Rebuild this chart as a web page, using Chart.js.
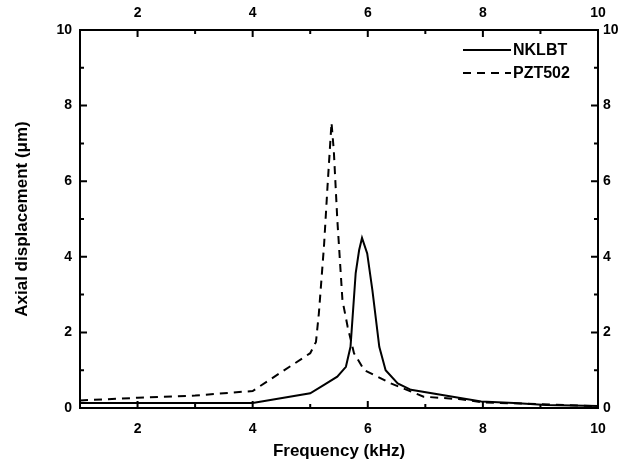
<!DOCTYPE html>
<html>
<head>
<meta charset="utf-8">
<script src="https://cdn.jsdelivr.net/npm/chart.js@4.4.0/dist/chart.umd.min.js"></script>
<style>
  html, body { margin: 0; padding: 0; background: #fff; }
  #wrap { width: 624px; height: 462px; }
</style>
</head>
<body>
<div id="wrap"><canvas id="chart" width="624" height="462"></canvas></div>
<script>
// data
const freqNKLBT = [1, 4, 5, 5.24, 5.47, 5.62, 5.7, 5.79, 5.85, 5.9, 5.99, 6.08, 6.2, 6.31, 6.52, 6.75, 7.97, 8.54, 9.1, 10];
const dispNKLBT = [0.13, 0.13, 0.39, 0.61, 0.83, 1.09, 1.62, 3.57, 4.18, 4.5, 4.09, 3.12, 1.62, 1.0, 0.65, 0.48, 0.17, 0.13, 0.08, 0.05];

const freqPZT = [1, 2, 3, 4, 4.5, 5, 5.1, 5.15, 5.24, 5.3, 5.37, 5.41, 5.47, 5.56, 5.65, 5.76, 5.94, 6.17, 6.4, 6.97, 7.62, 8, 9, 10];
const dispPZT = [0.2, 0.27, 0.33, 0.45, 0.95, 1.45, 1.75, 2.5, 4.3, 5.85, 7.55, 6.8, 5.0, 2.85, 2.15, 1.45, 1.0, 0.83, 0.65, 0.3, 0.23, 0.15, 0.1, 0.05];

const xTicks = [2, 4, 6, 8, 10];
const yTicks = [0, 2, 4, 6, 8, 10];
const seriesNames = ['NKLBT', 'PZT502'];

const toPoints = (xs, ys) => xs.map((x, i) => ({ x: x, y: ys[i] }));

const FONT = 'Liberation Sans, Arial, sans-serif';
const tickFont = { family: FONT, size: 14, weight: 'bold' };
const titleFont = { family: FONT, size: 17, weight: 'bold' };

// inward tick marks on all four sides
const innerTicks = {
  id: 'innerTicks',
  afterDraw(chart) {
    const ctx = chart.ctx;
    const a = chart.chartArea;
    const sx = chart.scales.x, sy = chart.scales.y;
    ctx.save();
    ctx.strokeStyle = '#000';
    ctx.lineWidth = 2;
    for (let v = 2; v <= 9; v++) {
      const len = v % 2 === 0 ? 7 : 4;
      const px = sx.getPixelForValue(v);
      ctx.beginPath();
      ctx.moveTo(px, a.bottom); ctx.lineTo(px, a.bottom - len);
      ctx.moveTo(px, a.top); ctx.lineTo(px, a.top + len);
      ctx.stroke();
    }
    for (let v = 1; v <= 9; v++) {
      const len = v % 2 === 0 ? 7 : 4;
      const py = sy.getPixelForValue(v);
      ctx.beginPath();
      ctx.moveTo(a.left, py); ctx.lineTo(a.left + len, py);
      ctx.moveTo(a.right, py); ctx.lineTo(a.right - len, py);
      ctx.stroke();
    }
    ctx.restore();
  }
};

// legend in the upper right corner
const cornerLegend = {
  id: 'cornerLegend',
  afterDraw(chart) {
    const ctx = chart.ctx;
    const a = chart.chartArea;
    ctx.save();
    ctx.font = 'bold 16px ' + FONT;
    ctx.textBaseline = 'middle';
    ctx.fillStyle = '#000';
    chart.data.datasets.forEach((ds, i) => {
      const y = a.top + 20 + i * 23;
      const x0 = a.right - 135, x1 = a.right - 87;
      ctx.strokeStyle = '#000';
      ctx.lineWidth = 2;
      ctx.setLineDash(ds.borderDash || []);
      ctx.beginPath();
      ctx.moveTo(x0, y); ctx.lineTo(x1, y);
      ctx.stroke();
      ctx.setLineDash([]);
      ctx.fillText(ds.label, x1 + 2, y + 1);
    });
    ctx.restore();
  }
};

const ctx = document.getElementById('chart').getContext('2d');
const chart = new Chart(ctx, {
  type: 'line',
  data: {
    datasets: [{
      label: seriesNames[0],
      data: toPoints(freqNKLBT, dispNKLBT),
      borderColor: '#000',
      borderWidth: 2,
      pointRadius: 0,
      tension: 0,
      xAxisID: 'x', yAxisID: 'y'
    }, {
      label: seriesNames[1],
      data: toPoints(freqPZT, dispPZT),
      borderColor: '#000',
      borderWidth: 2,
      borderDash: [8, 6],
      pointRadius: 0,
      tension: 0,
      xAxisID: 'x', yAxisID: 'y'
    }]
  },
  options: {
    responsive: false,
    animation: false,
    layout: { padding: 0 },
    plugins: { legend: { display: false }, tooltip: { enabled: false } },
    scales: {
      x: {
        type: 'linear', position: 'bottom', min: 1, max: 10,
        afterBuildTicks: s => { s.ticks = xTicks.map(v => ({ value: v })); },
        afterFit: s => { s.height = 54; },
        grid: { display: false, tickLength: 8 },
        border: { display: true, color: '#000', width: 2 },
        ticks: { color: '#000', font: tickFont, padding: 5, maxRotation: 0 },
        title: { display: true, text: 'Frequency (kHz)', color: '#000',
                 font: titleFont, padding: { top: 10, bottom: 0 } }
      },
      x2: {
        type: 'linear', position: 'top', min: 1, max: 10,
        afterBuildTicks: s => { s.ticks = xTicks.map(v => ({ value: v })); },
        afterFit: s => { s.height = 30; },
        grid: { display: false, tickLength: 8 },
        border: { display: true, color: '#000', width: 2 },
        ticks: { color: '#000', font: tickFont, padding: 0, maxRotation: 0 }
      },
      y: {
        type: 'linear', position: 'left', min: 0, max: 10,
        afterBuildTicks: s => { s.ticks = yTicks.map(v => ({ value: v })); },
        afterFit: s => { s.width = 80; },
        grid: { display: false, tickLength: 8 },
        border: { display: true, color: '#000', width: 2 },
        ticks: { color: '#000', font: tickFont, padding: 0 },
        title: { display: true, text: 'Axial displacement (\u03bcm)', color: '#000',
                 font: titleFont, padding: { top: 12, bottom: 0 } }
      },
      y2: {
        type: 'linear', position: 'right', min: 0, max: 10,
        afterBuildTicks: s => { s.ticks = yTicks.map(v => ({ value: v })); },
        afterFit: s => { s.width = 26; },
        grid: { display: false, tickLength: 5 },
        border: { display: true, color: '#000', width: 2 },
        ticks: { color: '#000', font: tickFont, padding: 0 }
      }
    }
  },
  plugins: [innerTicks, cornerLegend]
});
</script>
</body>
</html>
